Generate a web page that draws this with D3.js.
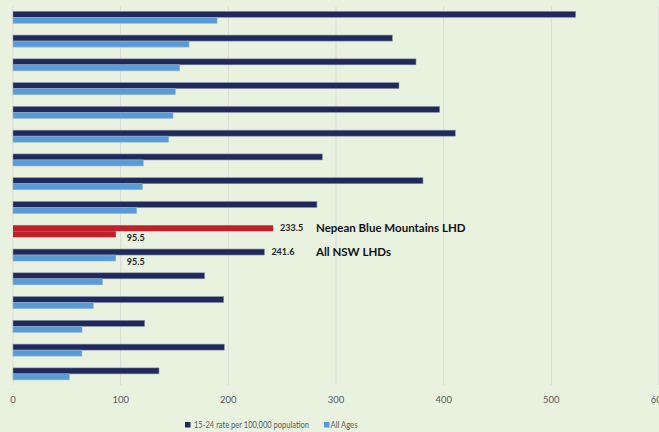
<!DOCTYPE html>
<html>
<head>
<meta charset="utf-8">
<script src="https://cdn.jsdelivr.net/npm/d3@7"></script>
<style>
  html, body { margin: 0; padding: 0; background: #e9f2df; }
  svg { display: block; font-family: Lato, "Open Sans", sans-serif; }
</style>
</head>
<body>
<div id="chart"></div>
<script>
// rows top to bottom; names not shown on the chart except the two annotated ones
const rows = ["r1","r2","r3","r4","r5","r6","r7","r8","r9","nbm","nsw","r12","r13","r14","r15","r16"];
const rate1524 = [522.6, 352.3, 374.3, 358.5, 396.3, 410.8, 287.3, 380.8, 282.3, 241.6, 233.5, 178.0, 195.7, 122.3, 196.3, 135.6];
const allAges  = [189.5, 163.5, 154.8, 150.8, 148.6, 144.6, 121.0, 120.1, 114.9, 95.5, 95.5, 83.0, 74.6, 64.1, 64.0, 52.3];
const xTicks = [0, 100, 200, 300, 400, 500, 600];
const seriesNames = ["15-24 rate per 100,000 population", "All Ages"];

// annotations as printed on the chart
const highlightRow = "nbm";
const annotations = [
  { row: "nbm", name: "Nepean Blue Mountains LHD", rateLabel: "233.5", allLabel: "95.5" },
  { row: "nsw", name: "All NSW LHDs", rateLabel: "241.6", allLabel: "95.5" }
];

const W = 659, H = 432;
const colors = { rate: "#1f295c", all: "#5b9bd5", red: "#c0202a", grid: "#d9d9d9", text: "#595959" };

const svg = d3.select("#chart").append("svg")
  .attr("width", W).attr("height", H);

svg.append("rect").attr("width", W).attr("height", H).attr("fill", "#e9f2df");

const x = d3.scaleLinear().domain([0, 600]).range([13, 659]);
const y = d3.scaleBand().domain(rows).range([6, 385.2]).paddingInner(0.495).paddingOuter(0.223);
const ySub = d3.scaleBand().domain(["rate", "all"]).range([0, y.bandwidth()]);

// gridlines
svg.append("g").selectAll("line")
  .data(xTicks)
  .join("line")
  .attr("x1", d => x(d)).attr("x2", d => x(d))
  .attr("y1", 6).attr("y2", 385)
  .attr("stroke", colors.grid).attr("stroke-width", 1);

// tick labels
svg.append("g").selectAll("text")
  .data(xTicks)
  .join("text")
  .attr("x", d => x(d)).attr("y", 402.5)
  .attr("text-anchor", "middle")
  .attr("fill", colors.text)
  .style("font-size", "9.5px")
  .text(d => d);

const data = rows.map((r, i) => ({ row: r, rate: rate1524[i], all: allAges[i] }));

const groups = svg.append("g").selectAll("g")
  .data(data)
  .join("g")
  .attr("transform", d => `translate(0,${y(d.row)})`);

groups.append("rect")
  .attr("x", x(0))
  .attr("y", ySub("rate"))
  .attr("width", d => x(d.rate) - x(0))
  .attr("height", ySub.bandwidth())
  .attr("fill", d => d.row === highlightRow ? colors.red : colors.rate)
  .attr("stroke", d => d.row === highlightRow ? "none" : "#8c94ab")
  .attr("stroke-width", 0.6);

groups.append("rect")
  .attr("x", x(0))
  .attr("y", ySub("all"))
  .attr("width", d => x(d.all) - x(0))
  .attr("height", ySub.bandwidth())
  .attr("fill", d => d.row === highlightRow ? colors.red : colors.all)
  .attr("stroke", d => d.row === highlightRow ? "none" : "#8fb3d6")
  .attr("stroke-width", 0.6);

// annotations
const ann = svg.append("g").selectAll("g")
  .data(annotations)
  .join("g")
  .attr("transform", d => `translate(0,${y(d.row)})`);

ann.append("text")
  .attr("x", d => x(rate1524[rows.indexOf(d.row)]) + 7)
  .attr("y", ySub("rate") + ySub.bandwidth() / 2 + 3)
  .style("font-size", "9px").style("font-weight", "bold")
  .attr("fill", "#222")
  .text(d => d.rateLabel);

ann.append("text")
  .attr("x", d => x(allAges[rows.indexOf(d.row)]) + 11)
  .attr("y", ySub("all") + ySub.bandwidth() / 2 + 7)
  .style("font-size", "9px").style("font-weight", "bold")
  .attr("fill", "#222")
  .text(d => d.allLabel);

ann.append("text")
  .attr("x", 316)
  .attr("y", ySub("rate") + ySub.bandwidth() / 2 + 4)
  .style("font-size", "11.5px").style("font-weight", "bold")
  .attr("fill", "#111")
  .text(d => d.name);

// legend (Calibri-like narrow text, squeezed to the reference widths)
const legendX = [185, 324];
const legendTextW = [115, 27];
const legend = svg.append("g").selectAll("g")
  .data(seriesNames)
  .join("g")
  .attr("transform", (d, i) => `translate(${legendX[i]},422)`);

legend.append("rect")
  .attr("width", 5.5).attr("height", 5.5)
  .attr("fill", (d, i) => i === 0 ? colors.rate : colors.all);

legend.append("text")
  .attr("x", (d, i) => i === 0 ? 9 : 6.5)
  .attr("y", 6)
  .attr("fill", colors.text)
  .attr("textLength", (d, i) => legendTextW[i])
  .attr("lengthAdjust", "spacingAndGlyphs")
  .style("font-size", "9px")
  .text(d => d);
</script>
</body>
</html>
